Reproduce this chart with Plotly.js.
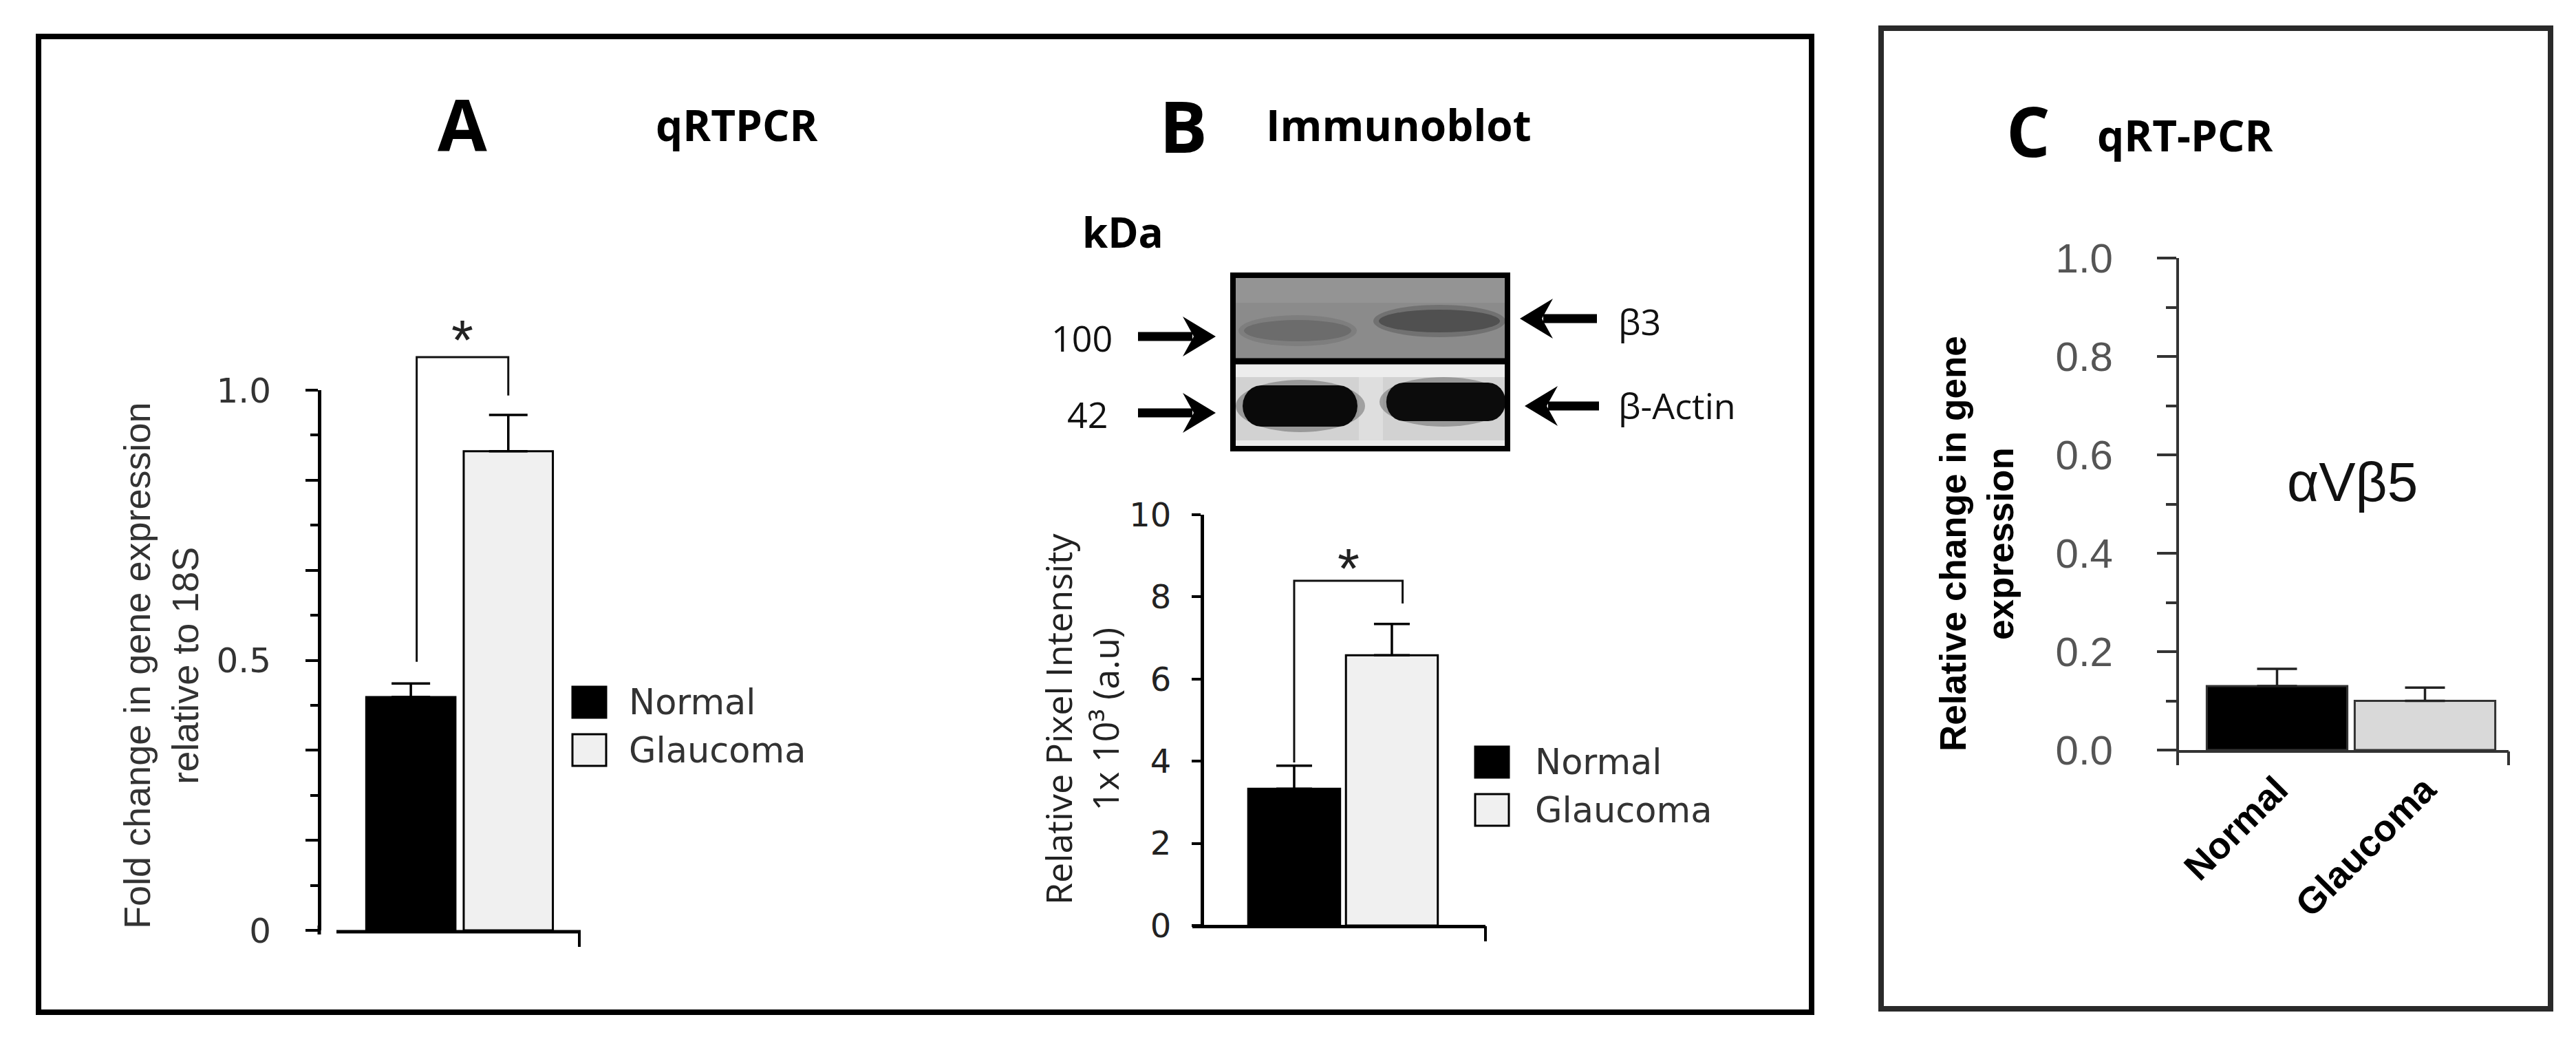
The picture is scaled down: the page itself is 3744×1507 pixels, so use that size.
<!DOCTYPE html>
<html>
<head>
<meta charset="utf-8">
<script src="https://cdn.plot.ly/plotly-3.0.1.min.js"></script>
<style>
html, body { margin: 0; padding: 0; background: #ffffff; }
#chart { width: 3744px; height: 1507px; }
</style>
</head>
<body>
<div id="chart"></div>
<script>
// ---------------- data ----------------
const groups = ['Normal', 'Glaucoma'];

// Panel A: qRTPCR, fold change relative to 18S
const qrtpcrMean = [0.432, 0.887];
const qrtpcrSem = [0.025, 0.067];

// Panel B: immunoblot densitometry (x10^3 a.u.)
const blotMean = [3.33, 6.58];
const blotSem = [0.56, 0.76];

// Panel C: alphaVbeta5 qRT-PCR
const avb5Mean = [0.13, 0.10];
const avb5Sem = [0.035, 0.027];

// significance brackets (x in group index units, y in data units)
const bracketAx = [0.06, 0.06, 1.0, 1.0];
const bracketAy = [0.497, 1.061, 1.061, 0.99];
const bracketBx = [0.0, 0.0, 1.11, 1.11];
const bracketBy = [3.97, 8.39, 8.39, 7.84];
const starA = [0.53, 1.116];
const starB = [0.56, 9.0];

// tick labels
const tickValsA = [0, 1/6, 2/6, 0.5, 4/6, 5/6, 1.0];
const tickTextA = ['0', '', '', '0.5', '', '', '1.0'];
const minorValsA = [1/12, 3/12, 5/12, 7/12, 9/12, 11/12];
const tickValsB = [0, 2, 4, 6, 8, 10];
const tickTextB = ['0', '2', '4', '6', '8', '10'];

// blot labels
const blotMarkers = ['100', '42'];
const blotTargets = ['\u03b23', '\u03b2-Actin'];

// ---------------- helpers ----------------
const W = 3744, H = 1507;
const X = p => p / W;
const Y = p => 1 - p / H;

const traces = [];
function addBars(means, sems, xa, ya, st) {
  groups.forEach((g, i) => {
    traces.push({
      type: 'bar', name: g, x: [i], y: [means[i]], xaxis: xa, yaxis: ya,
      width: st.width,
      marker: { color: st.fills[i], line: { color: st.lineColor, width: st.lineWidth } },
      error_y: { type: 'data', symmetric: false, array: [sems[i]], arrayminus: [0],
                 color: st.errColor, thickness: st.errThick, width: st.errWidth },
      showlegend: false, hoverinfo: 'skip'
    });
  });
}

addBars(qrtpcrMean, qrtpcrSem, 'x', 'y',
  { width: 0.915, fills: ['#000000', '#f0f0f0'], lineColor: '#000', lineWidth: 3,
    errColor: '#000', errThick: 3.5, errWidth: 28 });
addBars(blotMean, blotSem, 'x2', 'y2',
  { width: 0.94, fills: ['#000000', '#f0f0f0'], lineColor: '#000', lineWidth: 3,
    errColor: '#000', errThick: 3.5, errWidth: 26 });
addBars(avb5Mean, avb5Sem, 'x3', 'y3',
  { width: 0.95, fills: ['#000000', '#d9d9d9'], lineColor: '#333', lineWidth: 3,
    errColor: '#222', errThick: 3.5, errWidth: 29 });

// bracket A lives on a hidden axis with the same scale as panel A but extending above 1.0
traces.push({ type: 'scatter', mode: 'lines', x: bracketAx, y: bracketAy, xaxis: 'x', yaxis: 'y4',
  line: { color: '#111', width: 3 }, showlegend: false, hoverinfo: 'skip' });
traces.push({ type: 'scatter', mode: 'lines', x: bracketBx, y: bracketBy, xaxis: 'x2', yaxis: 'y2',
  line: { color: '#111', width: 3 }, showlegend: false, hoverinfo: 'skip' });

// ---------------- shapes ----------------
const shapes = [];
function rectPx(x0, y0, x1, y1, fill, lineColor, lineWidth, opacity) {
  shapes.push({ type: 'rect', xref: 'paper', yref: 'paper', x0: X(x0), x1: X(x1), y0: Y(y1), y1: Y(y0),
    fillcolor: fill, opacity: opacity == null ? 1 : opacity,
    line: { color: lineColor || 'rgba(0,0,0,0)', width: lineWidth || 0 } });
}
function linePx(x0, y0, x1, y1, color, width) {
  shapes.push({ type: 'line', xref: 'paper', yref: 'paper', x0: X(x0), x1: X(x1), y0: Y(y0), y1: Y(y1),
    line: { color: color, width: width } });
}
function ellipsePx(x0, y0, x1, y1, fill, opacity) {
  shapes.push({ type: 'circle', xref: 'paper', yref: 'paper', x0: X(x0), x1: X(x1), y0: Y(y1), y1: Y(y0),
    fillcolor: fill, opacity: opacity == null ? 1 : opacity, line: { width: 0 } });
}
function pathPx(pts, fill) {
  const d = pts.map((p, i) => (i ? 'L' : 'M') + X(p[0]) + ',' + Y(p[1])).join(' ') + ' Z';
  shapes.push({ type: 'path', xref: 'paper', yref: 'paper', path: d, fillcolor: fill, line: { width: 0 } });
}
function bandPx(x0, y0, x1, y1, fill) {
  const r = (y1 - y0) / 2, pts = [], n = 12;
  pts.push([x0 + r, y0]);
  pts.push([x1 - r, y0]);
  for (let k = 1; k <= n; k++) { const a = -Math.PI / 2 + Math.PI * k / n; pts.push([x1 - r + r * Math.cos(a) * 0.9, y0 + r + r * Math.sin(a)]); }
  pts.push([x0 + r, y1]);
  for (let k = 1; k <= n; k++) { const a = Math.PI / 2 + Math.PI * k / n; pts.push([x0 + r + r * Math.cos(a) * 0.9, y0 + r + r * Math.sin(a)]); }
  pathPx(pts, fill);
}
function arrowPx(tipX, y, dir, tailX) {
  const hl = 48, hh = 29, notch = 32;
  linePx(tailX, y, tipX - dir * (notch + 2), y, '#000', 13);
  pathPx([[tipX, y], [tipX - dir * hl, y - hh], [tipX - dir * notch, y], [tipX - dir * hl, y + hh]], '#000');
}

// panel frames
rectPx(56, 53, 2633, 1471, 'rgba(0,0,0,0)', '#000', 8);
rectPx(2734, 41, 3707, 1466, 'rgba(0,0,0,0)', '#2a2a2a', 8);

// panel A: y line reaches down to the x line; x line starts a little right of the y axis
linePx(464, 1345, 464, 1358, '#000', 5);
linePx(489, 1354, 844, 1354, '#000', 5);
// axis end hooks
linePx(842, 1354, 842, 1376, '#000', 4);
linePx(2159, 1346, 2159, 1368, '#000', 4);
linePx(3165, 1090, 3165, 1112, '#333', 4);
linePx(3646, 1092, 3646, 1112, '#333', 4);

// legends A and B
rectPx(832, 998, 881, 1043, '#000000', '#000', 3);
rectPx(832, 1067, 881, 1113, '#f0f0f0', '#000', 3);
rectPx(2144, 1085, 2193, 1130, '#000000', '#000', 3);
rectPx(2144, 1154, 2193, 1200, '#f0f0f0', '#000', 3);

// western blot picture
rectPx(1792, 400, 2191, 524, '#8b8b8b');
rectPx(1792, 400, 2191, 440, '#949494');
rectPx(1792, 524, 2191, 652, '#d2d2d2');
rectPx(1796, 529, 2187, 548, '#ededed');
rectPx(1975, 548, 2010, 648, '#dedede');
rectPx(1796, 640, 2187, 649, '#eaeaea');
ellipsePx(1800, 458, 1972, 503, '#7a7a7a', 0.8);
ellipsePx(1808, 465, 1964, 496, '#6c6c6c');
ellipsePx(1996, 443, 2188, 490, '#6a6a6a', 0.8);
ellipsePx(2004, 450, 2180, 483, '#505050');
ellipsePx(1796, 552, 1984, 628, '#555555', 0.45);
ellipsePx(2005, 548, 2191, 620, '#555555', 0.45);
bandPx(1803, 560, 1976, 620, '#0a0a0a');
bandPx(2012, 556, 2191, 612, '#0c0c0c');
linePx(1792, 525, 2191, 525, '#000', 9);
rectPx(1792, 400, 2191, 652, 'rgba(0,0,0,0)', '#000', 8);
arrowPx(1767, 489, 1, 1654);
arrowPx(1767, 600, 1, 1654);
arrowPx(2209, 463, -1, 2321);
arrowPx(2216, 590, -1, 2324);

// ---------------- annotations ----------------
const ann = [];
function textPx(x, y, text, font, opts) {
  ann.push(Object.assign({ xref: 'paper', yref: 'paper', x: X(x), y: Y(y), text: text, showarrow: false,
    xanchor: 'center', yanchor: 'middle', font: font }, opts || {}));
}
const boldTitle = (size) => ({ family: 'Open Sans, Liberation Sans, sans-serif', size: size, color: '#000', weight: 'bold' });

textPx(672, 179, 'A', boldTitle(104));
textPx(1071, 181, 'qRTPCR', boldTitle(62));
textPx(1720, 181, 'B', boldTitle(104));
textPx(2033, 181, 'Immunoblot', boldTitle(62));
textPx(2948, 189, 'C', boldTitle(100));
textPx(3175, 196, 'qRT-PCR', boldTitle(62));
textPx(1632, 337, 'kDa', boldTitle(60));

const blotFont = { family: 'Open Sans, Liberation Sans, sans-serif', size: 52, color: '#111' };
textPx(1572, 491, blotMarkers[0], blotFont);
textPx(1580, 601, blotMarkers[1], blotFont);
textPx(2350, 466, blotTargets[0], blotFont, { xanchor: 'left' });
textPx(2350, 588, blotTargets[1], blotFont, { xanchor: 'left' });

// axis titles
textPx(234, 967, 'Fold change in gene expression<br>relative to 18S',
  { family: 'Liberation Sans, Arial, sans-serif', size: 54, color: '#333' }, { textangle: -90 });
textPx(1571, 1045, 'Relative Pixel Intensity<br>1x 10\u00b3 (a.u)',
  { family: 'Open Sans, Liberation Sans, sans-serif', size: 52, color: '#222' }, { textangle: -90 });
textPx(2873, 790, 'Relative change in gene<br>expression',
  { family: 'Liberation Sans, Arial, sans-serif', size: 53, color: '#000', weight: 'bold' }, { textangle: -90 });

// panel C in-plot label
textPx(3419, 700, '\u03b1V\u03b25', { family: 'Liberation Sans, Arial, sans-serif', size: 80, color: '#111' });

// legend texts
const legFont = { family: 'DejaVu Sans, sans-serif', size: 51, color: '#333' };
textPx(912, 1021, groups[0], legFont, { xanchor: 'left' });
textPx(912, 1090, groups[1], legFont, { xanchor: 'left' });
textPx(2229, 1107, groups[0], legFont, { xanchor: 'left' });
textPx(2229, 1177, groups[1], legFont, { xanchor: 'left' });

// significance stars (data coordinates)
const starFont = { family: 'Liberation Sans, Arial, sans-serif', size: 82, color: '#222' };
ann.push({ xref: 'x', yref: 'y4', x: starA[0], y: starA[1], text: '*', showarrow: false,
  xanchor: 'center', yanchor: 'middle', yshift: -18, font: starFont });
ann.push({ xref: 'x2', yref: 'y2', x: starB[0], y: starB[1], text: '*', showarrow: false,
  xanchor: 'center', yanchor: 'middle', yshift: -18, font: starFont });

// ---------------- layout ----------------
const noGrid = { showgrid: false, zeroline: false, fixedrange: true };
const layout = {
  width: W, height: H,
  margin: { l: 0, r: 0, t: 0, b: 0 },
  paper_bgcolor: '#ffffff', plot_bgcolor: 'rgba(0,0,0,0)',
  showlegend: false, barmode: 'overlay',
  xaxis: Object.assign({ domain: [X(464), X(842)], range: [-0.940, 1.729], anchor: 'free', position: Y(1354),
    showline: false, ticks: '', showticklabels: false }, noGrid),
  yaxis: Object.assign({ domain: [Y(1352), Y(567)], range: [0, 1.0], anchor: 'free', position: X(464),
    showline: true, linewidth: 5, linecolor: '#000', ticks: 'outside', tickmode: 'array', tickvals: tickValsA, ticktext: tickTextA,
    ticklen: 18, tickwidth: 4, tickcolor: '#000', ticklabelstandoff: 40,
    tickfont: { family: 'DejaVu Sans, sans-serif', size: 50, color: '#333' },
    minor: { tickmode: 'array', tickvals: minorValsA, ticks: 'outside', ticklen: 11, tickwidth: 4, tickcolor: '#000' }
  }, noGrid),
  yaxis4: Object.assign({ domain: [Y(1352), Y(449.25)], range: [0, 1.15], anchor: 'free', position: X(464),
    visible: false }, noGrid),
  xaxis2: Object.assign({ domain: [X(1733), X(2159)], range: [-1.042, 1.958], anchor: 'free', position: Y(1346),
    showline: true, linewidth: 5, linecolor: '#000', ticks: '', showticklabels: false }, noGrid),
  yaxis2: Object.assign({ domain: [Y(1345), Y(748)], range: [0, 10], anchor: 'free', position: X(1747),
    showline: true, linewidth: 5, linecolor: '#000', ticks: 'outside', tickmode: 'array',
    tickvals: tickValsB, ticktext: tickTextB, ticklen: 13, tickwidth: 4, tickcolor: '#000', ticklabelstandoff: 20,
    tickfont: { family: 'DejaVu Sans, sans-serif', size: 48, color: '#222' } }, noGrid),
  xaxis3: Object.assign({ domain: [X(3165), X(3646)], range: [-0.672, 1.565], anchor: 'free', position: Y(1092),
    showline: true, linewidth: 4, linecolor: '#333', ticks: '', tickmode: 'array', tickvals: [0, 1], ticktext: groups,
    tickangle: -45, tickfont: { family: 'Liberation Sans, Arial, sans-serif', size: 54, color: '#000', weight: 'bold' } }, noGrid),
  yaxis3: Object.assign({ domain: [Y(1090), Y(375)], range: [0, 1], anchor: 'free', position: X(3165),
    showline: true, linewidth: 4, linecolor: '#333', ticks: 'outside', tickmode: 'linear', tick0: 0, dtick: 0.2,
    tickformat: '.1f', ticklen: 28, tickwidth: 4, tickcolor: '#333', ticklabelstandoff: 52,
    tickfont: { family: 'Liberation Sans, Arial, sans-serif', size: 60, color: '#555' },
    minor: { tick0: 0, dtick: 0.1, ticks: 'outside', ticklen: 15, tickwidth: 4, tickcolor: '#333' } }, noGrid),
  shapes: shapes,
  annotations: ann
};

Plotly.newPlot('chart', traces, layout, { staticPlot: true, displayModeBar: false });
</script>
</body>
</html>
